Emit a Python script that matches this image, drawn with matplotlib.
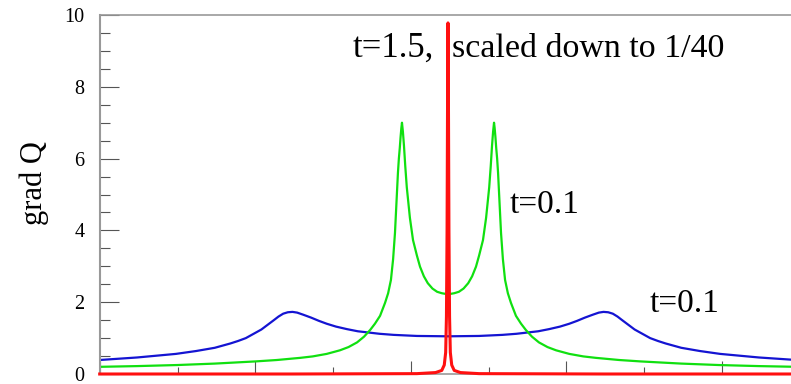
import numpy as np
import matplotlib
matplotlib.use("Agg")
import matplotlib.pyplot as plt
from matplotlib.ticker import MultipleLocator, NullFormatter

# half profiles: distance from the centre of the box -> grad Q
green_dx = [0.00, 0.04, 0.07, 0.10, 0.13, 0.155, 0.18, 0.20, 0.225, 0.245,
            0.265, 0.275, 0.283, 0.29, 0.296, 0.30, 0.305, 0.31, 0.316,
            0.322, 0.33, 0.341, 0.353, 0.367, 0.385, 0.405, 0.437, 0.47,
            0.50, 0.54, 0.585, 0.64, 0.695, 0.78, 0.87, 0.95, 1.10, 1.24,
            1.50, 1.74, 2.00, 2.24]
green_q = [2.22, 2.25, 2.29, 2.38, 2.53, 2.72, 2.99, 3.30, 3.73, 4.35,
           5.20, 5.80, 6.35, 6.75, 7.00, 6.85, 6.60, 6.30, 6.00,
           5.60, 4.90, 3.93, 3.20, 2.62, 2.25, 1.98, 1.62, 1.40,
           1.23, 1.04, 0.88, 0.75, 0.66, 0.56, 0.49, 0.45, 0.39, 0.35,
           0.29, 0.25, 0.22, 0.20]

blue_dx = [0.0, 0.2, 0.35, 0.44, 0.5, 0.58, 0.65, 0.72, 0.78, 0.83, 0.88,
           0.93, 0.97, 1.0, 1.03, 1.06, 1.09, 1.12, 1.16, 1.20, 1.25, 1.30,
           1.35, 1.40, 1.50, 1.62, 1.75, 2.0, 2.24]
blue_q = [1.05, 1.06, 1.09, 1.12, 1.15, 1.19, 1.25, 1.32, 1.40, 1.48, 1.57,
          1.65, 1.71, 1.73, 1.72, 1.68, 1.60, 1.50, 1.37, 1.24, 1.12, 1.00,
          0.92, 0.85, 0.73, 0.64, 0.56, 0.46, 0.39]

# t=1.5 profile, already divided by 40
red_dx = [0.0, 0.003, 0.006, 0.010, 0.015, 0.024, 0.04, 0.08, 0.2, 1.0, 2.24]
red_q = [9.78, 7.4, 4.0, 1.6, 0.6, 0.25, 0.1, 0.04, 0.01, 0.0, 0.0]

x_center = 2.238
x_max = 4.476


def mirror(dx, q):
    dx = np.asarray(dx)
    q = np.asarray(q)
    x = np.concatenate([x_center - dx[::-1], x_center + dx[1:]])
    y = np.concatenate([q[::-1], q[1:]])
    return x, y


plt.rcParams['font.family'] = ['Liberation Serif', 'DejaVu Serif']

fig = plt.figure(figsize=(7.91, 3.84), dpi=100)
ax = fig.add_axes([100 / 791, 10 / 384, 696 / 791, 359 / 384])

x, y = mirror(blue_dx, blue_q)
ax.plot(x, y, color='#1414d2', lw=1.6)
x, y = mirror(green_dx, green_q)
ax.plot(x, y, color='#10e010', lw=1.6)
x, y = mirror(red_dx, red_q)
ax.plot(x, y, color='#ff1010', lw=2.2, clip_on=False, zorder=5)

ax.set_xlim(0, x_max)
ax.set_ylim(0, 10)

ax.xaxis.set_major_locator(MultipleLocator(1))
ax.xaxis.set_minor_locator(MultipleLocator(0.5))
ax.xaxis.set_major_formatter(NullFormatter())
ax.yaxis.set_major_locator(MultipleLocator(2))
ax.yaxis.set_minor_locator(MultipleLocator(0.5))

ax.tick_params(axis='x', which='major', direction='in', length=9.5, width=0.8,
               color='#555555', top=False)
ax.tick_params(axis='x', which='minor', direction='in', length=5, width=0.8,
               color='#555555', top=False)
ax.tick_params(axis='y', which='major', direction='in', length=13.5, width=0.8,
               color='#555555', labelsize=14.5, pad=11, right=False)
ax.tick_params(axis='y', which='minor', direction='in', length=7, width=0.8,
               color='#555555', right=False)

for side in ['left', 'top', 'bottom', 'right']:
    ax.spines[side].set_color('#999999')
ax.spines['left'].set_linewidth(1.5)
ax.spines['top'].set_linewidth(1.2)
ax.spines['bottom'].set_linewidth(1.2)

fig.text(34 / 791, 1 - 183 / 384, 'grad Q', rotation=90, fontsize=22,
         ha='center', va='center')

fig.text(353 / 791, 1 - 57 / 384, 't=1.5,', fontsize=25, va='baseline')
fig.text(452 / 791, 1 - 57 / 384, 'scaled down to 1/40', fontsize=24.5,
         va='baseline')
fig.text(510 / 791, 1 - 213 / 384, 't=0.1', fontsize=24, va='baseline')
fig.text(650 / 791, 1 - 312 / 384, 't=0.1', fontsize=24, va='baseline')

fig.savefig('out.png', dpi=100)
